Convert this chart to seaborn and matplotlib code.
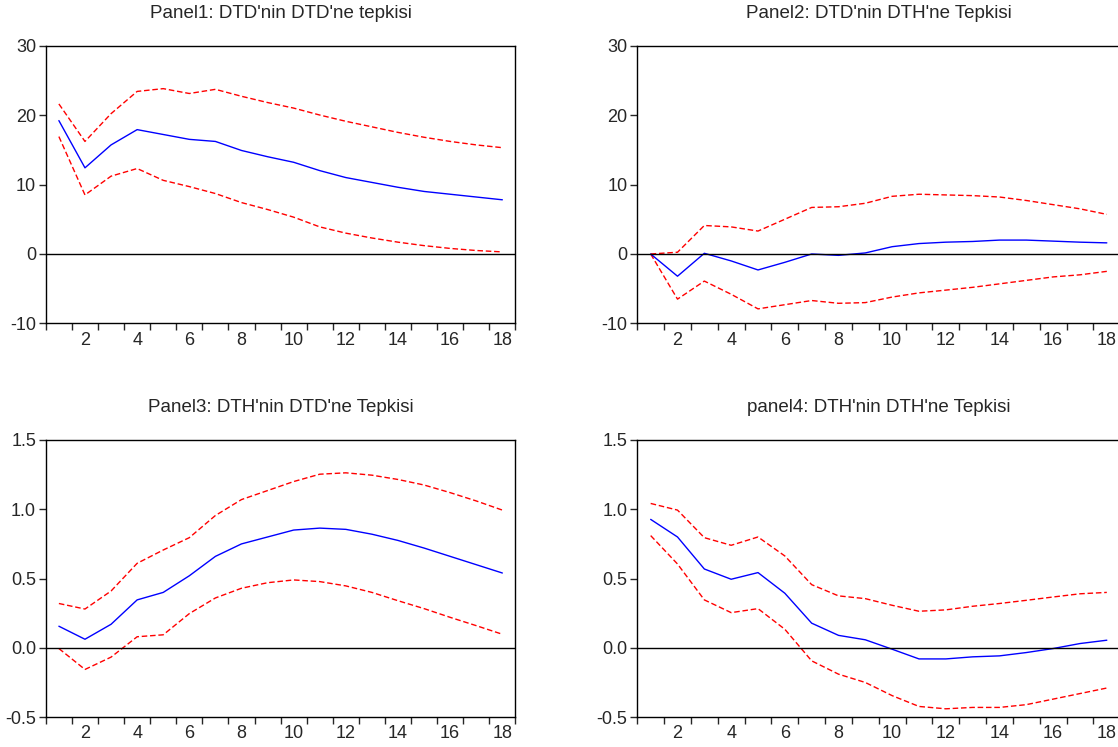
import numpy as np
import pandas as pd
import matplotlib
matplotlib.use("Agg")
import matplotlib.pyplot as plt
from matplotlib.ticker import FormatStrFormatter
import seaborn as sns

# Impulse responses, periods 1..18 (point estimate and +/- 2 S.E. bands)
periodos = list(range(1, 19))

p1_resp = [19.2, 12.4, 15.7, 17.9, 17.2, 16.5, 16.2, 14.9, 14.0, 13.2,
           12.0, 11.0, 10.3, 9.6, 9.0, 8.6, 8.2, 7.8]
p1_ust = [21.6, 16.2, 20.2, 23.4, 23.8, 23.1, 23.7, 22.7, 21.8, 21.0,
          20.0, 19.1, 18.3, 17.5, 16.8, 16.2, 15.7, 15.3]
p1_alt = [16.9, 8.5, 11.2, 12.3, 10.6, 9.7, 8.7, 7.4, 6.4, 5.3,
          3.9, 3.0, 2.3, 1.7, 1.2, 0.8, 0.5, 0.3]

p2_resp = [0.0, -3.2, 0.1, -1.0, -2.3, -1.2, 0.0, -0.2, 0.15, 1.05,
           1.5, 1.7, 1.8, 2.0, 2.0, 1.85, 1.7, 1.6]
p2_ust = [0.0, 0.25, 4.1, 3.9, 3.3, 5.0, 6.7, 6.8, 7.3, 8.3,
          8.6, 8.5, 8.4, 8.2, 7.7, 7.1, 6.5, 5.7]
p2_alt = [0.0, -6.5, -3.9, -5.8, -7.9, -7.3, -6.7, -7.1, -7.0, -6.2,
          -5.6, -5.2, -4.8, -4.3, -3.8, -3.3, -3.0, -2.5]

p3_resp = [0.156, 0.062, 0.17, 0.346, 0.40, 0.52, 0.66, 0.75, 0.80, 0.85,
           0.864, 0.855, 0.82, 0.775, 0.72, 0.66, 0.60, 0.54]
p3_ust = [0.32, 0.28, 0.41, 0.61, 0.706, 0.795, 0.955, 1.07, 1.135, 1.20,
          1.253, 1.263, 1.246, 1.215, 1.175, 1.12, 1.06, 0.994]
p3_alt = [-0.005, -0.156, -0.067, 0.08, 0.094, 0.247, 0.36, 0.43, 0.47, 0.49,
          0.478, 0.447, 0.40, 0.34, 0.283, 0.22, 0.16, 0.098]

p4_resp = [0.927, 0.80, 0.569, 0.495, 0.543, 0.394, 0.178, 0.09, 0.058, -0.01,
           -0.08, -0.08, -0.065, -0.058, -0.034, -0.005, 0.031, 0.055]
p4_ust = [1.042, 0.994, 0.795, 0.74, 0.80, 0.663, 0.456, 0.375, 0.355, 0.307,
          0.264, 0.274, 0.30, 0.32, 0.343, 0.367, 0.39, 0.40]
p4_alt = [0.81, 0.605, 0.346, 0.254, 0.283, 0.134, -0.094, -0.19, -0.25, -0.345,
          -0.423, -0.44, -0.43, -0.43, -0.41, -0.37, -0.33, -0.29]

basliklar = ["Panel1: DTD'nin DTD'ne tepkisi", "Panel2: DTD'nin DTH'ne Tepkisi",
             "Panel3: DTH'nin DTD'ne Tepkisi", "panel4: DTH'nin DTH'ne Tepkisi"]

sns.set_style("ticks")
plt.rcParams['font.family'] = ['Liberation Sans', 'DejaVu Sans']
plt.rcParams['axes.unicode_minus'] = False

fig = plt.figure(figsize=(11.18, 7.47), dpi=100)

konumlar = [[0.041, 0.567, 0.420, 0.372],
            [0.570, 0.567, 0.432, 0.372],
            [0.041, 0.040, 0.420, 0.371],
            [0.570, 0.040, 0.432, 0.371]]
seriler = [(p1_resp, p1_ust, p1_alt), (p2_resp, p2_ust, p2_alt),
           (p3_resp, p3_ust, p3_alt), (p4_resp, p4_ust, p4_alt)]

for i in range(4):
    ax = fig.add_axes(konumlar[i])
    resp, ust, alt = seriler[i]
    df = pd.DataFrame({'Donem': periodos, 'Tepki': resp, 'Ust': ust, 'Alt': alt})

    sns.lineplot(data=df, x='Donem', y='Ust', ax=ax, color='#FF0000', lw=1,
                 dashes=False, linestyle=(0, (4, 2)))
    sns.lineplot(data=df, x='Donem', y='Alt', ax=ax, color='#FF0000', lw=1,
                 dashes=False, linestyle=(0, (4, 2)))
    sns.lineplot(data=df, x='Donem', y='Tepki', ax=ax, color='#0000FF', lw=1)
    ax.axhline(0, color='black', lw=1)

    ax.set_xlim(0.5, 18.5)
    if i < 2:
        ax.set_ylim(-10, 30)
        ax.set_yticks([-10, 0, 10, 20, 30])
    else:
        ax.set_ylim(-0.5, 1.5)
        ax.set_yticks([-0.5, 0.0, 0.5, 1.0, 1.5])
        ax.yaxis.set_major_formatter(FormatStrFormatter('%.1f'))

    # tick marks at the period boundaries, labels on even periods
    ax.set_xticks(np.arange(0.5, 19, 1))
    ax.set_xticklabels([])
    ax.set_xticks(range(2, 19, 2), minor=True)
    ax.set_xticklabels([str(k) for k in range(2, 19, 2)], minor=True)
    ax.tick_params(axis='x', which='major', direction='out', length=5, width=1)
    ax.tick_params(axis='x', which='minor', length=0, pad=6, labelsize=13)
    ax.tick_params(axis='y', direction='out', length=5, width=1, labelsize=13, pad=2)

    for s in ax.spines.values():
        s.set_visible(True)
        s.set_color('black')
        s.set_linewidth(1)

    ax.set_xlabel('')
    ax.set_ylabel('')
    ax.set_title(basliklar[i], fontsize=13.5, pad=20)

fig.savefig("out.png", dpi=100)
